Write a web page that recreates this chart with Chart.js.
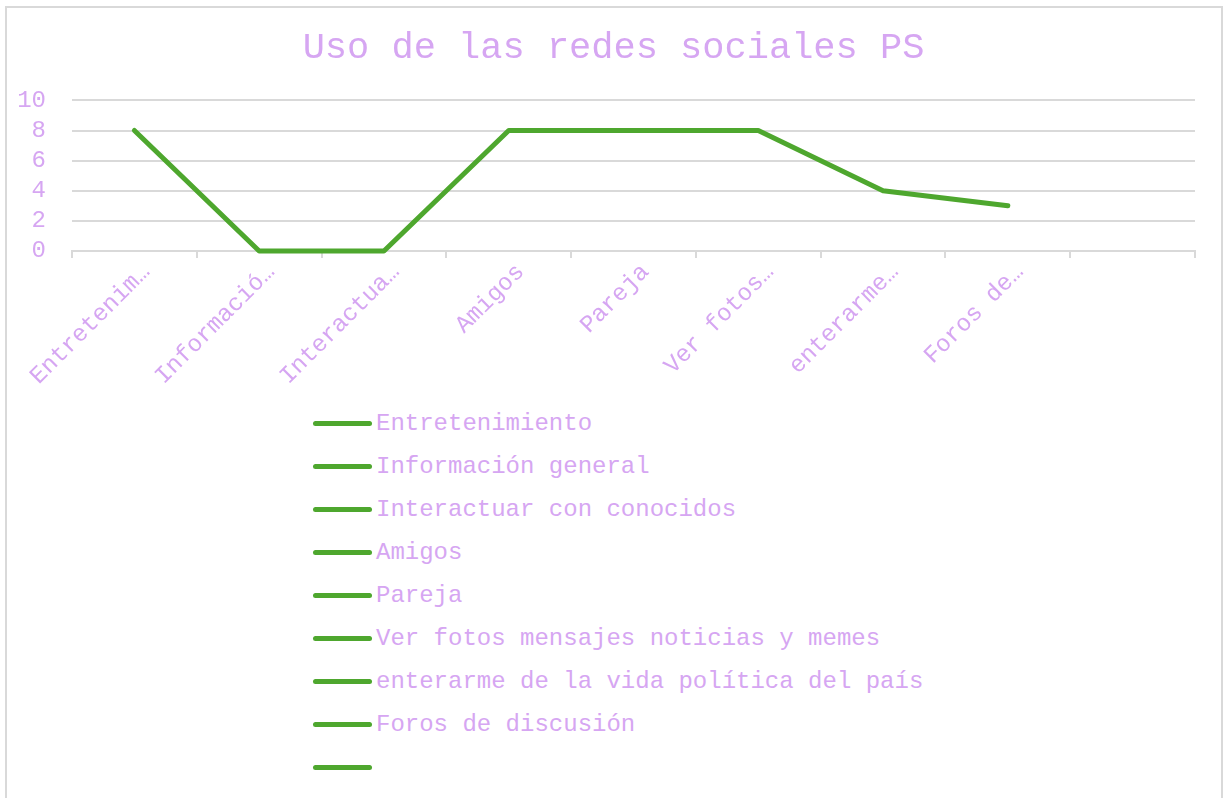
<!DOCTYPE html>
<html>
<head>
<meta charset="utf-8">
<script src="https://cdn.jsdelivr.net/npm/chart.js@4.4.1/dist/chart.umd.min.js"></script>
<style>
    body { margin: 0; background: #ffffff; width: 1227px; height: 798px; overflow: hidden; position: relative; font-family: 'Liberation Mono', 'Courier New', monospace; }
    #frame { position: absolute; left: 5px; top: 6px; width: 1218px; height: 820px; border: 2px solid #d9d9d9; box-sizing: border-box; }
    #chart { position: absolute; left: 0; top: 0; }
    #legend { position: absolute; left: 313px; top: 402px; }
    .item { height: 43px; display: flex; align-items: center; }
    .swatch { width: 59px; height: 5px; border-radius: 3px; background: #4ea72e; margin-right: 4px; }
    .label { font-size: 24px; line-height: 1; color: #d6a6f2; white-space: pre; }
</style>
</head>
<body>
<div id="frame"></div>
<canvas id="chart" width="1227" height="400"></canvas>
<div id="legend"></div>
<script>
const categories = [
    'Entretenimiento',
    'Información general',
    'Interactuar con conocidos',
    'Amigos',
    'Pareja',
    'Ver fotos mensajes noticias y memes',
    'enterarme de la vida política del país',
    'Foros de discusión',
    ''
];
const values = [8, 0, 0, 8, 8, 8, 4, 3, null];
const yTicks = [0, 2, 4, 6, 8, 10];

const textColor = '#d6a6f2';
const lineColor = '#4ea72e';
const gridColor = '#d9d9d9';
const fontFamily = "'Liberation Mono', 'Courier New', monospace";

// axis labels get cut like the spreadsheet does: at a word if possible
function shortLabel(text) {
    if (text.length <= 10) return text;
    let cut = text.slice(0, 10);
    if (text[10] !== ' ' && cut.includes(' ')) cut = cut.slice(0, cut.lastIndexOf(' '));
    return cut.trimEnd() + '…';
}

const ctx = document.getElementById('chart').getContext('2d');
new Chart(ctx, {
    type: 'line',
    data: {
        labels: categories,
        datasets: [{
            label: 'Uso de las redes sociales PS',
            data: values,
            borderColor: lineColor,
            backgroundColor: lineColor,
            borderWidth: 5,
            borderCapStyle: 'round',
            borderJoinStyle: 'round',
            pointRadius: 0,
            tension: 0,
            clip: false
        }]
    },
    options: {
        responsive: false,
        animation: false,
        devicePixelRatio: 1,
        layout: { padding: { top: 18, right: 0, left: 0, bottom: 0 } },
        scales: {
            x: {
                type: 'category',
                offset: true,
                afterFit: scale => { scale.height = 149; },
                grid: {
                    offset: true,
                    drawOnChartArea: false,
                    drawTicks: true,
                    tickLength: 7,
                    color: gridColor,
                    lineWidth: 2
                },
                border: { display: true, color: gridColor, width: 2 },
                ticks: {
                    autoSkip: false,
                    minRotation: 45,
                    maxRotation: 45,
                    padding: 0,
                    labelOffset: 12,
                    color: textColor,
                    font: { family: fontFamily, size: 24 },
                    callback: function(value) {
                        return shortLabel(this.getLabelForValue(value));
                    }
                }
            },
            y: {
                min: 0,
                max: 10,
                afterFit: scale => { scale.width = 72; },
                afterBuildTicks: scale => { scale.ticks = yTicks.map(v => ({ value: v })); },
                grid: { color: gridColor, lineWidth: 2, drawTicks: false },
                border: { display: false },
                ticks: {
                    autoSkip: false,
                    padding: 26,
                    color: textColor,
                    font: { family: fontFamily, size: 24 }
                }
            },
            // empty right-hand strip so the title centres on the whole card
            spacer: {
                type: 'linear',
                position: 'right',
                afterFit: scale => { scale.width = 32; },
                grid: { display: false },
                border: { display: false },
                ticks: { display: false }
            }
        },
        plugins: {
            legend: { display: false },
            tooltip: { enabled: false },
            title: {
                display: true,
                text: 'Uso de las redes sociales PS',
                color: textColor,
                font: { family: fontFamily, size: 37, weight: 'normal' },
                padding: { top: 8, bottom: 30 }
            }
        }
    }
});

const legendBox = document.getElementById('legend');
categories.forEach(name => {
    const row = document.createElement('div');
    row.className = 'item';
    const swatch = document.createElement('span');
    swatch.className = 'swatch';
    const label = document.createElement('span');
    label.className = 'label';
    label.textContent = name;
    row.appendChild(swatch);
    row.appendChild(label);
    legendBox.appendChild(row);
});
</script>
</body>
</html>
